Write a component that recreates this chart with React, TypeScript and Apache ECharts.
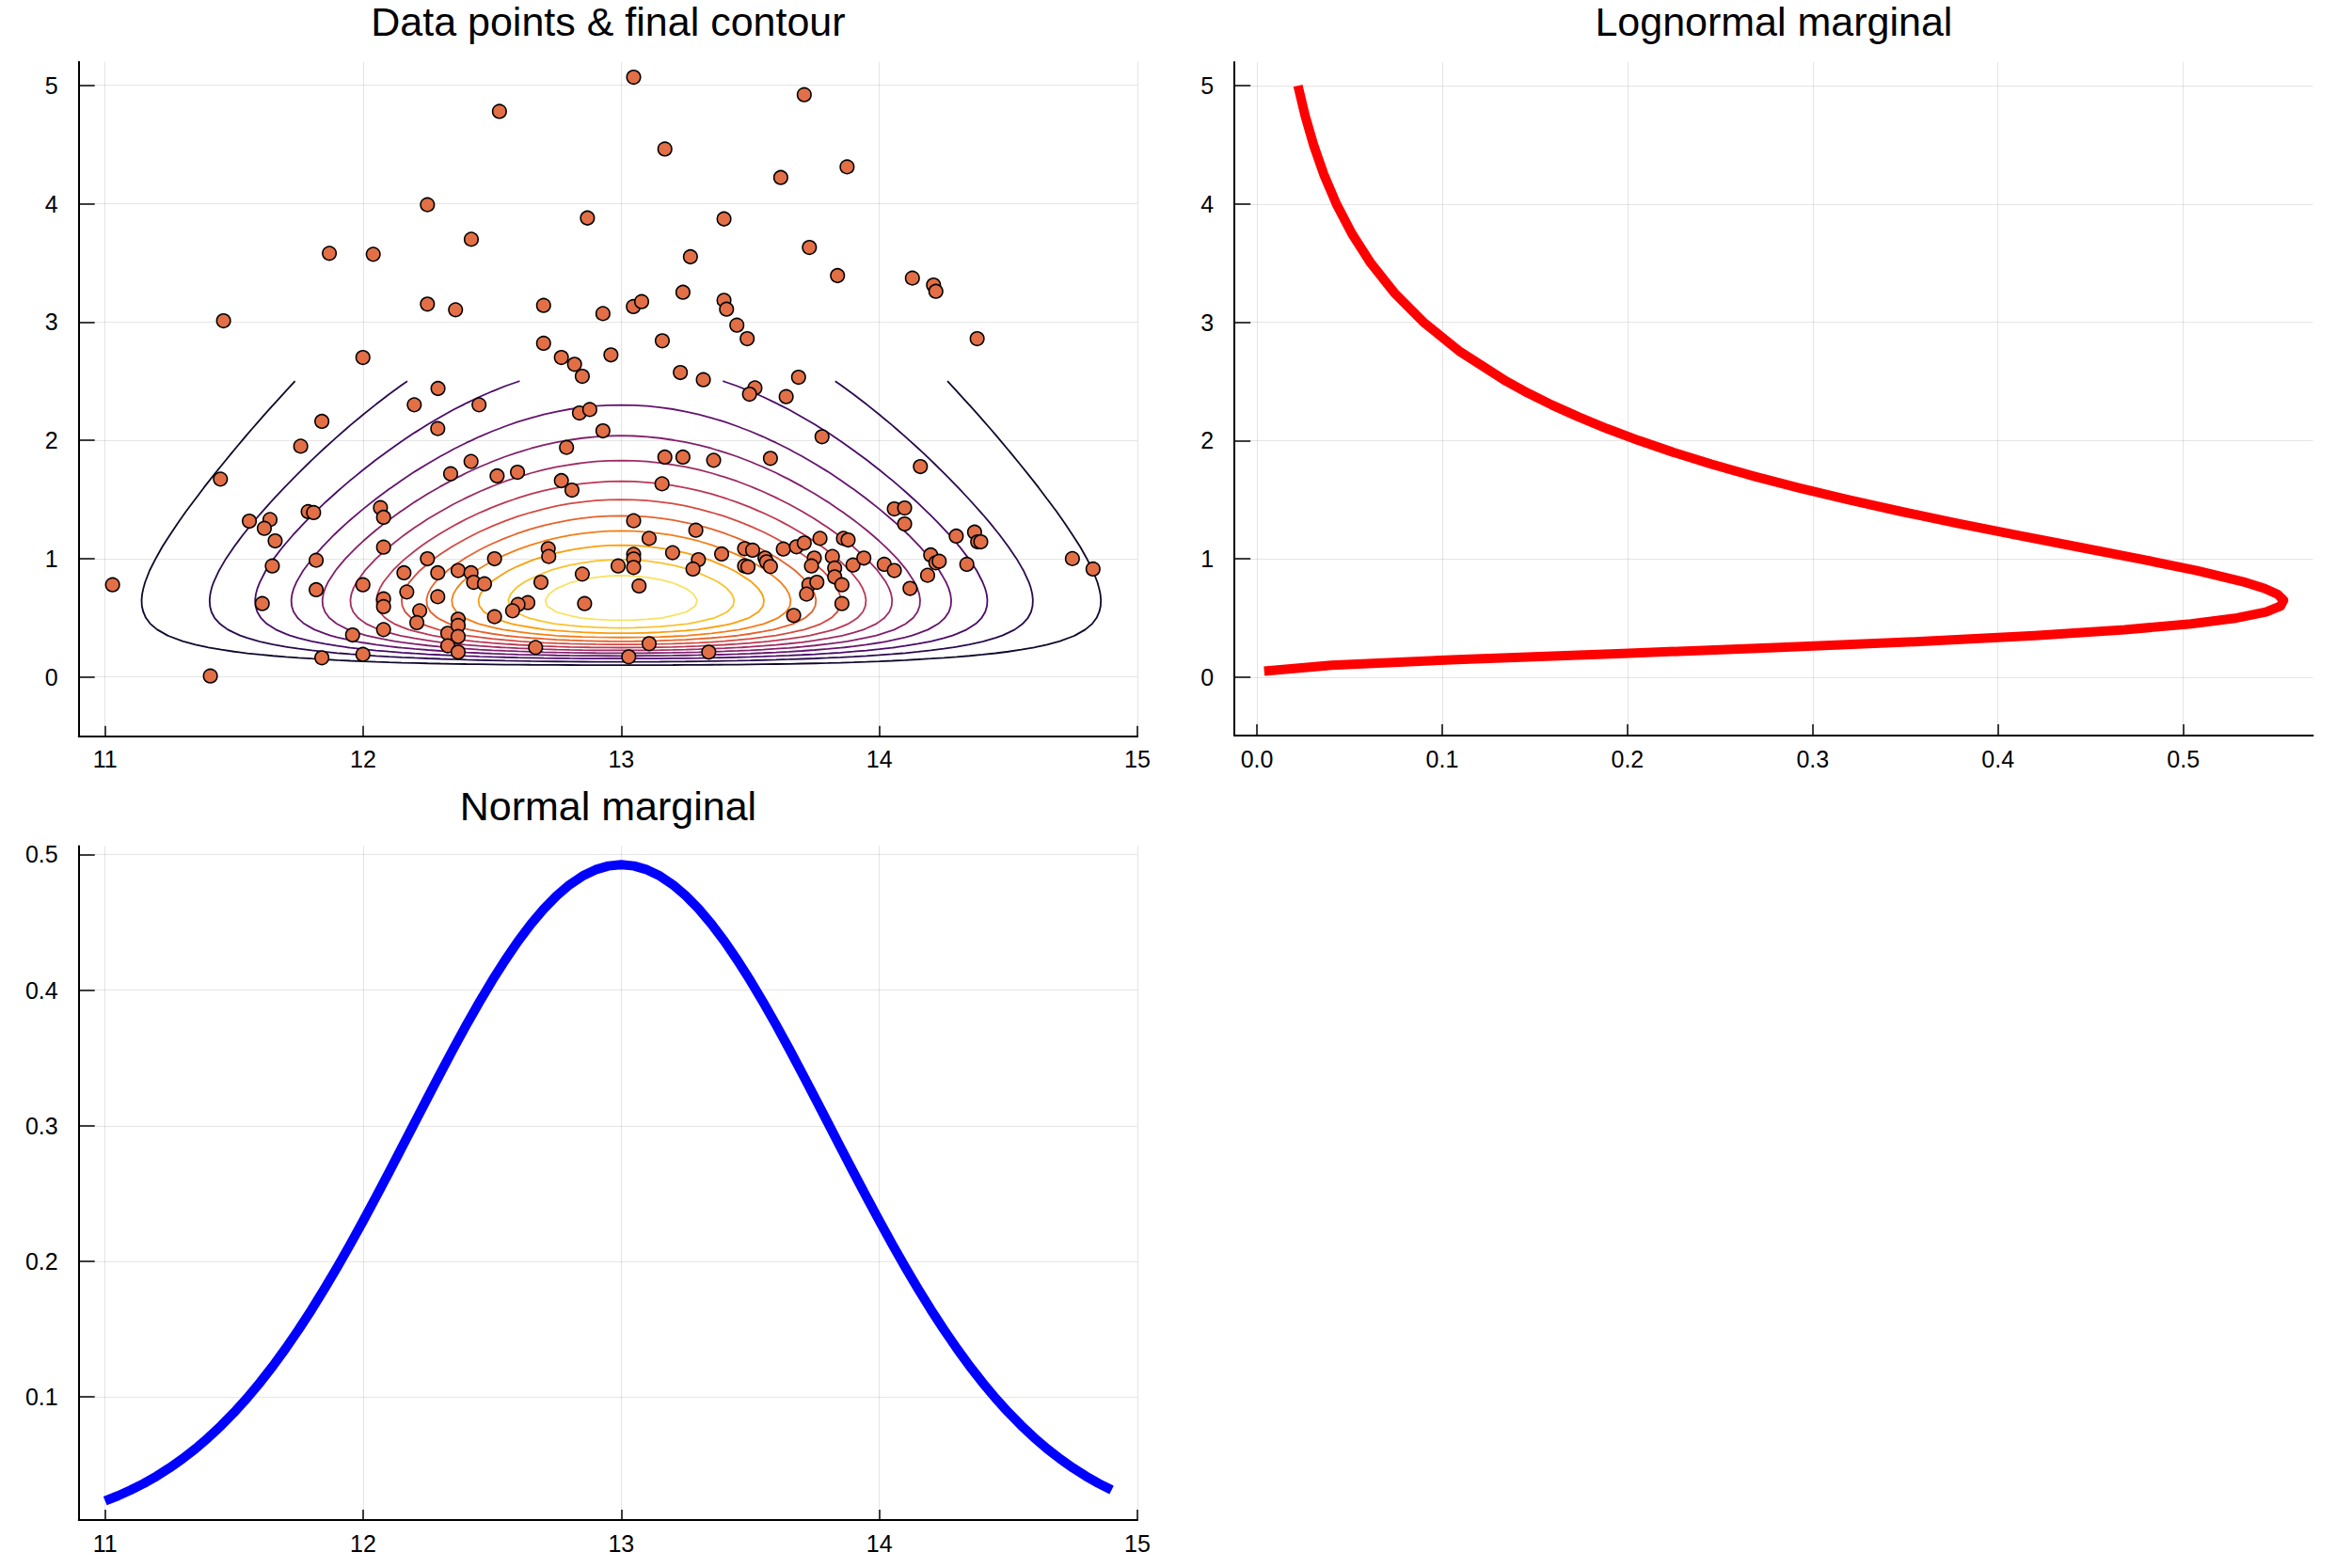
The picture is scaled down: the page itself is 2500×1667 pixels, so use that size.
import React, { useEffect, useRef } from 'react';
import * as echarts from 'echarts';

const FONT = '"Liberation Sans", Arial, Helvetica, sans-serif';

const titles = ['Data points & final contour', 'Lognormal marginal', 'Normal marginal'];

// ---------- scatter data (x, y) ----------
const dataPoints: [number, number][] = [
  [11.459, 3.010], [11.869, 3.580], [12.039, 3.572], [12.249, 3.991], [12.249, 3.151], [12.358, 3.103], [11.999, 2.700],
  [13.048, 5.069], [13.709, 4.921], [12.528, 4.780], [13.169, 4.462], [13.618, 4.221], [13.875, 4.311], [12.419, 3.699],
  [12.869, 3.879], [13.398, 3.871], [13.729, 3.630], [13.268, 3.551], [13.838, 3.392], [12.699, 3.140], [12.929, 3.071],
  [13.047, 3.130], [13.079, 3.172], [13.239, 3.251], [13.398, 3.183], [13.408, 3.108], [13.448, 2.973], [13.488, 2.859],
  [13.159, 2.841], [12.699, 2.820], [12.768, 2.700], [12.819, 2.642], [12.849, 2.541], [12.960, 2.722], [13.229, 2.573],
  [13.318, 2.512], [13.687, 2.533],
  [14.128, 3.371], [14.210, 3.312], [14.219, 3.259], [14.379, 2.859],
  [12.290, 2.438], [12.198, 2.300], [11.840, 2.160], [12.289, 2.099], [11.758, 1.950], [11.447, 1.672], [12.339, 1.717],
  [11.559, 1.317], [11.639, 1.330], [11.617, 1.256], [11.659, 1.150], [11.787, 1.397], [11.808, 1.389], [12.067, 1.431],
  [12.079, 1.349], [12.079, 1.097], [11.648, 0.938], [11.818, 0.986], [11.818, 0.737], [11.029, 0.779], [11.609, 0.620],
  [11.999, 0.779], [12.079, 0.660], [12.079, 0.594], [12.249, 0.999], [12.158, 0.880], [12.289, 0.880], [12.368, 0.899],
  [12.169, 0.718], [12.289, 0.678], [12.219, 0.559], [12.208, 0.459], [12.079, 0.400], [11.959, 0.355], [11.840, 0.162],
  [11.999, 0.191], [11.408, 0.008], [12.328, 0.369], [12.368, 0.488], [12.368, 0.435], [12.368, 0.342], [12.328, 0.263],
  [12.368, 0.210],
  [13.518, 2.443], [13.497, 2.390], [13.639, 2.369], [12.449, 2.300], [12.838, 2.231], [12.878, 2.260], [12.929, 2.080],
  [13.778, 2.030], [12.788, 1.940], [12.418, 1.821], [12.519, 1.699], [12.598, 1.730], [12.768, 1.659], [12.809, 1.579],
  [13.169, 1.858], [13.239, 1.858], [13.358, 1.831], [13.578, 1.847], [13.158, 1.632],
  [13.048, 1.320], [13.289, 1.240], [13.108, 1.171], [12.717, 1.084], [12.719, 1.018], [12.509, 0.999], [12.418, 0.880],
  [12.428, 0.800], [12.470, 0.787], [12.689, 0.800], [12.849, 0.869], [12.988, 0.938], [13.048, 1.036], [13.048, 0.997],
  [13.048, 0.925], [13.069, 0.769], [13.199, 1.050], [13.299, 0.991], [13.278, 0.912], [13.389, 1.039], [13.478, 1.084],
  [13.509, 1.071], [13.557, 1.005], [13.563, 0.973], [13.578, 0.933], [13.478, 0.938], [13.491, 0.930], [13.628, 1.081],
  [13.679, 1.100], [13.709, 1.132], [13.770, 1.171], [13.861, 1.171], [13.748, 1.005], [13.737, 0.938], [13.818, 1.018],
  [13.827, 0.920], [13.827, 0.846], [13.855, 0.779], [13.727, 0.779], [13.758, 0.800], [13.718, 0.700], [13.855, 0.620],
  [13.668, 0.520],
  [12.858, 0.620], [12.638, 0.628], [12.600, 0.612], [12.579, 0.559], [12.509, 0.509], [12.668, 0.249], [13.108, 0.281],
  [13.029, 0.170], [13.339, 0.210],
  [14.159, 1.778], [14.058, 1.420], [14.098, 1.428], [14.098, 1.293], [13.879, 1.158], [13.898, 0.946], [13.940, 1.005],
  [14.019, 0.952], [14.058, 0.899], [14.119, 0.748], [14.187, 0.859], [14.199, 1.031], [14.219, 0.965], [14.232, 0.978],
  [14.298, 1.190], [14.369, 1.224], [14.381, 1.142], [14.393, 1.142], [14.339, 0.952], [14.748, 1.000], [14.828, 0.912],
];

// ---------- normal marginal (x, density) ----------
const normalX = [
  11.0, 11.05, 11.1, 11.15, 11.2, 11.25, 11.3, 11.35, 11.4, 11.45, 11.5, 11.55, 11.6, 11.65, 11.7, 11.75, 11.8, 11.85, 11.9, 11.95,
  12.0, 12.05, 12.1, 12.15, 12.2, 12.25, 12.3, 12.35, 12.4, 12.45, 12.5, 12.55, 12.6, 12.65, 12.7, 12.75, 12.8, 12.85, 12.9, 12.95,
  13.0, 13.05, 13.1, 13.15, 13.2, 13.25, 13.3, 13.35, 13.4, 13.45, 13.5, 13.55, 13.6, 13.65, 13.7, 13.75, 13.8, 13.85, 13.9, 13.95,
  14.0, 14.05, 14.1, 14.15, 14.2, 14.25, 14.3, 14.35, 14.4, 14.45, 14.5, 14.55, 14.6, 14.65, 14.7, 14.75, 14.8, 14.85, 14.9,
];
const normalD = [
  0.02336, 0.02716, 0.03145, 0.03628, 0.04169, 0.04773, 0.05444, 0.06185, 0.07001, 0.07893, 0.08866, 0.09921, 0.11060, 0.12281,
  0.13587, 0.14972, 0.16436, 0.17976, 0.19585, 0.21258, 0.22985, 0.24758, 0.26566, 0.28398, 0.30241, 0.32080, 0.33902, 0.35692,
  0.37433, 0.39110, 0.40707, 0.42207, 0.43597, 0.44860, 0.45985, 0.46959, 0.47772, 0.48413, 0.48876, 0.49156,
  0.49250,
  0.49156, 0.48876, 0.48413, 0.47772, 0.46959, 0.45985, 0.44860, 0.43597, 0.42207, 0.40707, 0.39110, 0.37433, 0.35692, 0.33902,
  0.32080, 0.30241, 0.28398, 0.26566, 0.24758, 0.22985, 0.21258, 0.19585, 0.17976, 0.16436, 0.14972, 0.13587, 0.12281, 0.11060,
  0.09921, 0.08866, 0.07893, 0.07001, 0.06185, 0.05444, 0.04773, 0.04169, 0.03628, 0.03145,
];

// ---------- lognormal marginal (y, density) ----------
const lognY = [
  0.05, 0.1, 0.15, 0.2, 0.25, 0.3, 0.35, 0.4, 0.45, 0.5, 0.55, 0.6, 0.65, 0.7, 0.75, 0.8, 0.9, 1.0, 1.1, 1.2, 1.3, 1.4, 1.5,
  1.6, 1.7, 1.8, 1.9, 2.0, 2.1, 2.2, 2.3, 2.4, 2.5, 2.75, 3.0, 3.25, 3.5, 3.75, 4.0, 4.25, 4.5, 4.75, 5.0,
];
const lognD = [
  0.00391, 0.04009, 0.11139, 0.19759, 0.28258, 0.35777, 0.41982, 0.46830, 0.50419, 0.52905, 0.54460, 0.55247, 0.55414,
  0.55087, 0.54373, 0.53363, 0.50731, 0.47624, 0.44328, 0.41019, 0.37807, 0.34754, 0.31892, 0.29237, 0.26789, 0.24542,
  0.22488, 0.20613, 0.18904, 0.17348, 0.15932, 0.14644, 0.13471, 0.10976, 0.08994, 0.07413, 0.06144, 0.05121, 0.04290,
  0.03611, 0.03055, 0.02595, 0.02215,
];

// ---------- contour levels & colours ----------
const contourTopY = 2.5;
const contourLevels = [0.01965, 0.0393, 0.05895, 0.0786, 0.09825, 0.1179, 0.13755, 0.1572, 0.17685, 0.1965, 0.21615, 0.2358, 0.25545];
const contourColors = ['#10082a', '#290b4d', '#480c69', '#64156d', '#81206a', '#9f2b62', '#bc3754', '#d44a41', '#e6622c', '#f47e17', '#fb9f0c', '#f9c22c', '#f8e261'];

// ---------- ticks ----------
const xTicksMain = [11, 12, 13, 14, 15];
const yTicksMain = [0, 1, 2, 3, 4, 5];
const xTicksLogn = [0, 0.1, 0.2, 0.3, 0.4, 0.5];
const yTicksNormal = [0.1, 0.2, 0.3, 0.4, 0.5];

type EdgePt = { key: string; p: [number, number] };

function marchingSquares(xs: number[], ys: number[], z: number[][], level: number): [number, number][][] {
  const segs: [EdgePt, EdgePt][] = [];
  const lerp = (a: number, b: number, va: number, vb: number) => a + ((level - va) / (vb - va)) * (b - a);
  for (let j = 0; j < ys.length - 1; j++) {
    for (let i = 0; i < xs.length - 1; i++) {
      const v00 = z[j][i], v10 = z[j][i + 1], v11 = z[j + 1][i + 1], v01 = z[j + 1][i];
      const pts: EdgePt[] = [];
      if ((v00 >= level) !== (v10 >= level)) pts.push({ key: `h${i}_${j}`, p: [lerp(xs[i], xs[i + 1], v00, v10), ys[j]] });
      if ((v10 >= level) !== (v11 >= level)) pts.push({ key: `v${i + 1}_${j}`, p: [xs[i + 1], lerp(ys[j], ys[j + 1], v10, v11)] });
      if ((v01 >= level) !== (v11 >= level)) pts.push({ key: `h${i}_${j + 1}`, p: [lerp(xs[i], xs[i + 1], v01, v11), ys[j + 1]] });
      if ((v00 >= level) !== (v01 >= level)) pts.push({ key: `v${i}_${j}`, p: [xs[i], lerp(ys[j], ys[j + 1], v00, v01)] });
      if (pts.length === 2) segs.push([pts[0], pts[1]]);
      else if (pts.length === 4) { segs.push([pts[0], pts[1]]); segs.push([pts[2], pts[3]]); }
    }
  }
  const byKey = new Map<string, number[]>();
  segs.forEach((s, idx) => {
    for (const e of s) {
      if (!byKey.has(e.key)) byKey.set(e.key, []);
      byKey.get(e.key)!.push(idx);
    }
  });
  const used = new Array(segs.length).fill(false);
  const lines: [number, number][][] = [];
  for (let s = 0; s < segs.length; s++) {
    if (used[s]) continue;
    used[s] = true;
    const line: EdgePt[] = [segs[s][0], segs[s][1]];
    const extend = (atEnd: boolean) => {
      for (;;) {
        const tip = atEnd ? line[line.length - 1] : line[0];
        const cands = byKey.get(tip.key) || [];
        const next = cands.find((c) => !used[c]);
        if (next === undefined) break;
        used[next] = true;
        const sg = segs[next];
        const other = sg[0].key === tip.key ? sg[1] : sg[0];
        if (atEnd) line.push(other); else line.unshift(other);
      }
    };
    extend(true);
    extend(false);
    lines.push(line.map((e) => e.p));
  }
  return lines;
}

function makeAxis(gridIndex: number, min: number, max: number, ticks: number[], tickLen: number, margin: number, fmt?: (v: number) => string) {
  return {
    type: 'value',
    gridIndex,
    min,
    max,
    axisLine: { show: true, onZero: false, lineStyle: { color: '#000', width: 2 } },
    axisTick: { show: true, inside: true, length: tickLen, lineStyle: { color: '#000', width: 1.5 }, customValues: ticks },
    axisLabel: {
      show: true,
      customValues: ticks,
      color: '#000',
      fontSize: 25,
      fontFamily: FONT,
      margin,
      ...(fmt ? { formatter: fmt } : {}),
    },
    splitLine: { show: true, lineStyle: { color: 'rgba(0,0,0,0.1)', width: 1 } },
  };
}

function buildOption() {
  const rowsY = lognY.filter((v) => v <= contourTopY);
  const z = rowsY.map((_, j) => normalD.map((nx) => nx * lognD[j]));
  const contourSeries: any[] = [];
  contourLevels.forEach((lv, k) => {
    const lines = marchingSquares(normalX, rowsY, z, lv);
    lines.forEach((pts) => {
      contourSeries.push({
        type: 'line',
        xAxisIndex: 0,
        yAxisIndex: 0,
        data: pts,
        symbol: 'none',
        showSymbol: false,
        silent: true,
        smooth: false,
        z: 2,
        lineStyle: { color: contourColors[k], width: 1.8 },
      });
    });
  });

  const titleGraphics = [
    { x: 646.4, y: 23, text: titles[0] },
    { x: 1885.4, y: 23, text: titles[1] },
    { x: 646.4, y: 857, text: titles[2] },
  ].map((t) => ({
    type: 'text',
    x: t.x,
    y: t.y,
    silent: true,
    style: {
      text: t.text,
      fontSize: 43,
      fontFamily: FONT,
      fill: '#000',
      align: 'center',
      verticalAlign: 'middle',
      textAlign: 'center',
      textVerticalAlign: 'middle',
    },
  }));

  return {
    animation: false,
    backgroundColor: '#ffffff',
    grid: [
      { left: 83.7, top: 65.7, width: 1125.3, height: 717, outerBoundsMode: 'none' },
      { left: 1312.2, top: 66.1, width: 1146.3, height: 716, outerBoundsMode: 'none' },
      { left: 83.7, top: 899.5, width: 1125.3, height: 716.5, outerBoundsMode: 'none' },
    ],
    xAxis: [
      makeAxis(0, 10.898, 15.0, xTicksMain, 11, 12),
      makeAxis(1, -0.0121, 0.570, xTicksLogn, 12, 12, (v: number) => v.toFixed(1)),
      makeAxis(2, 10.898, 15.0, xTicksMain, 11, 12),
    ],
    yAxis: [
      makeAxis(0, -0.501, 5.199, yTicksMain, 17, 22),
      makeAxis(1, -0.4955, 5.199, yTicksMain, 17, 22),
      makeAxis(2, 0.0093, 0.5062, yTicksNormal, 17, 22, (v: number) => v.toFixed(1)),
    ],
    graphic: titleGraphics,
    series: [
      ...contourSeries,
      {
        type: 'scatter',
        xAxisIndex: 0,
        yAxisIndex: 0,
        data: dataPoints,
        symbol: 'circle',
        symbolSize: 14.5,
        z: 3,
        itemStyle: { color: '#e26f46', borderColor: '#000000', borderWidth: 1.6, opacity: 1 },
      },
      {
        type: 'line',
        xAxisIndex: 1,
        yAxisIndex: 1,
        data: lognY.map((y, i) => [lognD[i], y]),
        symbol: 'none',
        showSymbol: false,
        smooth: false,
        lineStyle: { color: '#ff0000', width: 10, join: 'round' },
      },
      {
        type: 'line',
        xAxisIndex: 2,
        yAxisIndex: 2,
        data: normalX.map((x, i) => [x, normalD[i]]),
        symbol: 'none',
        showSymbol: false,
        smooth: false,
        lineStyle: { color: '#0000ff', width: 10, join: 'round' },
      },
    ],
  };
}

export default function App() {
  const ref = useRef<HTMLDivElement>(null);
  useEffect(() => {
    if (!ref.current) return;
    const chart = echarts.init(ref.current, undefined, { renderer: 'svg', width: 2500, height: 1667 });
    chart.setOption(buildOption() as any);
    return () => chart.dispose();
  }, []);
  return (
    <div
      ref={ref}
      style={{ position: 'absolute', left: 0, top: 0, width: 2500, height: 1667, background: '#ffffff' }}
    />
  );
}
